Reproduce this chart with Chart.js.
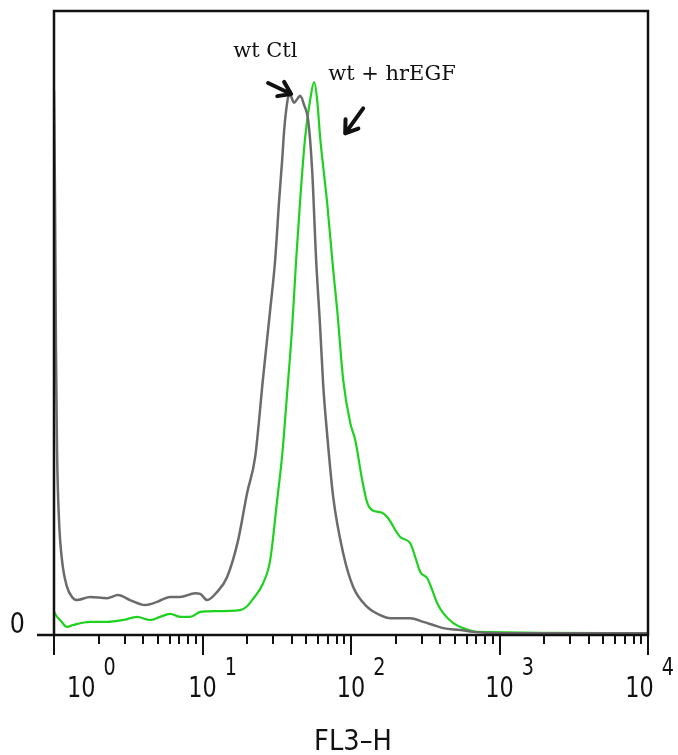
<!DOCTYPE html>
<html>
<head>
<meta charset="utf-8">
<script src="https://cdn.jsdelivr.net/npm/chart.js@4.4.1/dist/chart.umd.min.js"></script>
<style>
  html, body { margin: 0; padding: 0; background: #fff; }
  #wrap { width: 678px; height: 755px; }
</style>
</head>
<body>
<div id="wrap"><canvas id="histChart" width="678" height="755"></canvas></div>
<script>
// FL3-H channel values and event counts
const ctlFl3 = [1, 1.016, 1.031, 1.048, 1.081, 1.132, 1.224, 1.322, 1.429, 1.748, 2.276, 2.7, 3.252, 4.105, 4.945, 6.048, 7.066, 8.918, 9.634, 10.74, 12.54, 14.65, 17.38, 19.99, 22.62, 25.6, 28.56, 30.85, 32.82, 34.39, 35.48, 36.6, 37.75, 38.94, 41.42, 44.06, 45.48, 48.38, 51.47, 54.75, 58.24, 61.95, 64.96, 69.12, 75.89, 88.6, 103.5, 128.6, 157.3, 183.7, 250.6, 306.6, 358, 418.1, 544.5, 665.9, 1012, 10000];
const ctlCount = [87.3, 69.7, 45.7, 29.6, 18.4, 12.0, 7.7, 6.1, 5.6, 6.1, 5.9, 6.4, 5.6, 4.8, 5.3, 6.1, 6.1, 6.7, 6.6, 5.6, 6.9, 9.3, 15.2, 22.8, 28.5, 41.3, 52.1, 60.1, 69.7, 76.1, 80.9, 84.1, 86.2, 86.5, 85.3, 86.1, 86.4, 84.9, 82.5, 74.5, 60.1, 49.4, 40.1, 32.1, 22.1, 13.1, 7.7, 4.5, 3.2, 2.7, 2.7, 2.1, 1.6, 1.1, 0.8, 0.5, 0.3, 0.3];

const egfFl3 = [1, 1.048, 1.098, 1.224, 1.343, 1.748, 2.276, 2.918, 3.625, 4.436, 5.18, 6.048, 7.066, 8.25, 9.634, 10.74, 17.92, 19.99, 21.59, 25.6, 28.56, 31.82, 34.39, 37.16, 40.17, 42.72, 45.47, 49.13, 53.11, 56.49, 59.19, 61.95, 69.12, 75.89, 80.72, 88.6, 98.76, 106.7, 119, 128.6, 139, 162.3, 175.4, 214.6, 250.6, 270.8, 292.6, 326, 352.5, 380.9, 418.1, 488.4, 570.4, 708.7, 10000];
const egfCount = [3.7, 2.9, 2.4, 1.3, 1.6, 2.1, 2.1, 2.4, 2.9, 2.4, 2.9, 3.4, 2.9, 2.9, 3.7, 3.8, 4.0, 4.6, 5.6, 8.3, 12.0, 21.6, 28.8, 38.8, 49.4, 60.1, 69.7, 79.8, 85.8, 88.6, 85.7, 79.8, 69.2, 58.5, 52.1, 40.9, 34.0, 31.3, 24.8, 21.2, 20.0, 19.6, 18.9, 15.7, 14.7, 12.5, 10.1, 9.1, 7.2, 5.1, 3.5, 1.9, 1.1, 0.5, 0.3];

// axis ticks
const decades = [1, 10, 100, 1000, 10000];
const decadeExp = ["0", "1", "2", "3", "4"];
const minorSteps = [2, 3, 4, 5, 6, 7, 8, 9];

// annotations: label text, anchor value, arrow tip value
const noteText = ["wt Ctl", "wt + hrEGF"];
const noteX = [16.1, 70.2];
const noteY = [92.6, 88.9];
const arrowTipX = [39.5, 91.4];
const arrowTipY = [86.7, 80.4];

const toPoints = (xs, ys) => xs.map((x, i) => ({ x: x, y: ys[i] }));

// narrow sans text, drawn squeezed horizontally
function narrowText(ctx, text, x, y, size, squeeze) {
  ctx.save();
  ctx.font = size + 'px "DejaVu Sans"';
  ctx.translate(x, y);
  ctx.scale(squeeze, 1);
  ctx.fillText(text, 0, 0);
  ctx.restore();
}
function narrowWidth(ctx, text, size, squeeze) {
  ctx.save();
  ctx.font = size + 'px "DejaVu Sans"';
  const w = ctx.measureText(text).width * squeeze;
  ctx.restore();
  return w;
}

const axisDecor = {
  id: "axisDecor",
  afterDraw(chart) {
    const ctx = chart.ctx;
    const { left, right, top, bottom } = chart.chartArea;
    const xs = chart.scales.x;
    const ys = chart.scales.y;
    ctx.save();
    ctx.strokeStyle = "#111";
    ctx.fillStyle = "#111";

    // frame
    ctx.lineWidth = 2.5;
    ctx.strokeRect(left, top, right - left, bottom - top);
    ctx.beginPath();
    ctx.moveTo(left - 17, bottom);
    ctx.lineTo(left, bottom);
    ctx.stroke();

    // x ticks
    ctx.lineWidth = 2;
    decades.forEach((d, i) => {
      const px = Math.round(xs.getPixelForValue(d));
      ctx.beginPath();
      ctx.moveTo(px, bottom);
      ctx.lineTo(px, bottom + 20);
      ctx.stroke();
      if (i < decades.length - 1) {
        minorSteps.forEach((m) => {
          const mx = Math.round(xs.getPixelForValue(d * m));
          ctx.beginPath();
          ctx.moveTo(mx, bottom);
          ctx.lineTo(mx, bottom + 9);
          ctx.stroke();
        });
      }
    });

    // tick labels 10^n
    ctx.textBaseline = "alphabetic";
    ctx.textAlign = "left";
    const sq = 0.8;
    decades.forEach((d, i) => {
      const baseW = narrowWidth(ctx, "10", 28, sq);
      const expW = narrowWidth(ctx, decadeExp[i], 24, sq);
      const gap = 8;
      let x0 = xs.getPixelForValue(d) - baseW / 2;
      if (x0 < left + 13) x0 = left + 13;
      if (x0 + baseW + gap + expW > chart.width - 4) x0 = chart.width - 4 - expW - gap - baseW;
      narrowText(ctx, "10", x0, bottom + 62, 28, sq);
      narrowText(ctx, decadeExp[i], x0 + baseW + gap, bottom + 40, 24, sq);
    });

    // y zero label
    const zw = narrowWidth(ctx, "0", 28, 0.85);
    narrowText(ctx, "0", left - 29 - zw, ys.getPixelForValue(0) - 2, 28, 0.85);

    // x title
    const tw = narrowWidth(ctx, "FL3\u2013H", 28, 0.92);
    narrowText(ctx, "FL3\u2013H", (left + right) / 2 + 2 - tw / 2, bottom + 115, 28, 0.92);

    // notes and arrows
    ctx.font = '21px "DejaVu Serif"';
    noteText.forEach((t, i) => {
      ctx.fillText(t, xs.getPixelForValue(noteX[i]), ys.getPixelForValue(noteY[i]));
    });
    const arrowDir = [[-23, -11], [18, -25]];
    ctx.lineWidth = 4;
    ctx.lineCap = "round";
    arrowTipX.forEach((ax, i) => {
      const tx = xs.getPixelForValue(ax);
      const ty = ys.getPixelForValue(arrowTipY[i]);
      const [dx, dy] = arrowDir[i];
      const ang = Math.atan2(dy, dx);
      ctx.beginPath();
      ctx.moveTo(tx + dx, ty + dy);
      ctx.lineTo(tx, ty);
      [0.6, -0.6].forEach((a) => {
        ctx.moveTo(tx, ty);
        ctx.lineTo(tx + 14 * Math.cos(ang + a), ty + 14 * Math.sin(ang + a));
      });
      ctx.stroke();
    });
    ctx.restore();
  },
};

const chart = new Chart(document.getElementById("histChart"), {
  type: "scatter",
  data: {
    datasets: [
      {
        label: "wt Ctl",
        data: toPoints(ctlFl3, ctlCount),
        showLine: true,
        borderColor: "#6b6b6b",
        borderWidth: 2.5,
        pointRadius: 0,
        cubicInterpolationMode: "monotone",
      },
      {
        label: "wt + hrEGF",
        data: toPoints(egfFl3, egfCount),
        showLine: true,
        borderColor: "#1fd11f",
        borderWidth: 2.2,
        pointRadius: 0,
        cubicInterpolationMode: "monotone",
      },
    ],
  },
  options: {
    responsive: false,
    animation: false,
    layout: { padding: { left: 54, top: 11, right: 30, bottom: 120 } },
    scales: {
      x: { type: "logarithmic", min: 1, max: 10000, display: false },
      y: { type: "linear", min: 0, max: 100, display: false },
    },
    plugins: {
      legend: { display: false },
      tooltip: { enabled: false },
    },
  },
  plugins: [axisDecor],
});
</script>
</body>
</html>
